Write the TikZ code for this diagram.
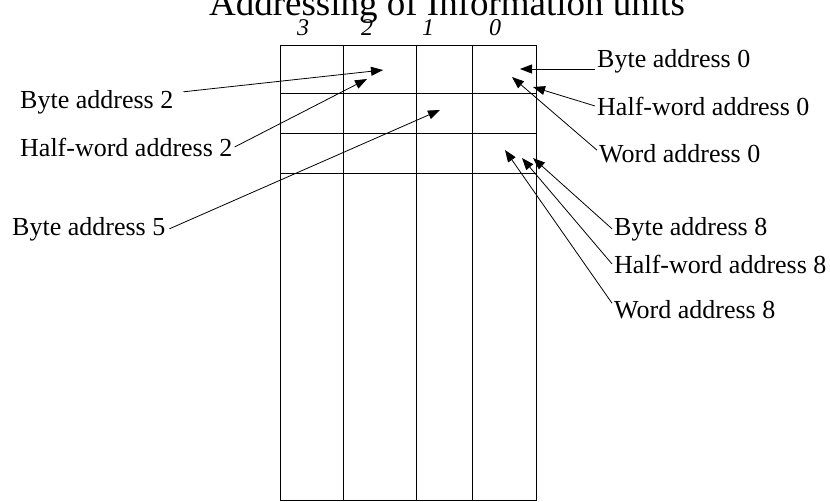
\documentclass[tikz,border=0pt]{standalone}
\usepackage{fontspec}
\setmainfont{Liberation Serif}
\usetikzlibrary{arrows.meta}

\begin{document}
\begin{tikzpicture}[x=1pt,y=-1pt,
    lbl/.style={anchor=base west,inner xsep=2pt,inner ysep=0pt,font=\fontsize{26}{30}\selectfont},
    ptr/.style={-{Triangle[length=12pt,width=9pt]},line width=0.8pt}]
  \useasboundingbox (0,0) rectangle (830,501);
  \node[anchor=base,font=\fontsize{37}{40}\selectfont] (title) at (447,15) {Addressing of Information units};

  % the memory words
  \draw[line width=1pt] (280,45) rectangle (536,500);
  \foreach \x in {343,416,472} \draw[line width=1pt] (\x,45) -- (\x,500);
  \foreach \y in {93,133,173} \draw[line width=1pt] (280,\y) -- (536,\y);
  \foreach \x/\d in {303/3,367/2,428/1,495/0}
    \node[anchor=base,font=\fontsize{24}{26}\itshape] (col\d) at (\x,35) {\d};

  % where the arrows point
  \coordinate (tb0) at (520,69);  \coordinate (th0) at (533,87);  \coordinate (tw0) at (512,77);
  \coordinate (tb8) at (533,158); \coordinate (th8) at (522,158); \coordinate (tw8) at (505,150);
  \coordinate (tb2) at (383,70);  \coordinate (th2) at (367,79);  \coordinate (tb5) at (440,110);

  \node[lbl] (b2) at (18,108) {Byte address 2};
  \node[lbl] (h2) at (18,156) {Half-word address 2};
  \node[lbl] (b5) at (10,235) {Byte address 5};
  \draw[ptr] ([xshift=8pt,yshift=10pt]b2.east) -- (tb2);
  \draw[ptr] (h2.east) -- (th2);
  \draw[ptr] ([xshift=2pt]b5.east) -- (tb5);

  \node[lbl] (b0) at (595,67) {Byte address 0};
  \node[lbl] (h0) at (595,115) {Half-word address 0};
  \node[lbl] (w0) at (597,162) {Word address 0};
  \node[lbl] (b8) at (612,235) {Byte address 8};
  \node[lbl] (h8) at (612,273) {Half-word address 8};
  \node[lbl] (w8) at (612,318) {Word address 8};
  \draw[ptr] ([yshift=-2pt]b0.base west) -- (tb0);
  \draw[ptr] (h0.west) -- (th0);
  \draw[ptr] ([yshift=3pt]w0.west) -- (tw0);
  \draw[ptr] (b8.west) -- (tb8);
  \draw[ptr] (h8.west) -- (th8);
  \draw[ptr] ([yshift=6pt]w8.west) -- (tw8);
\end{tikzpicture}
\end{document}
